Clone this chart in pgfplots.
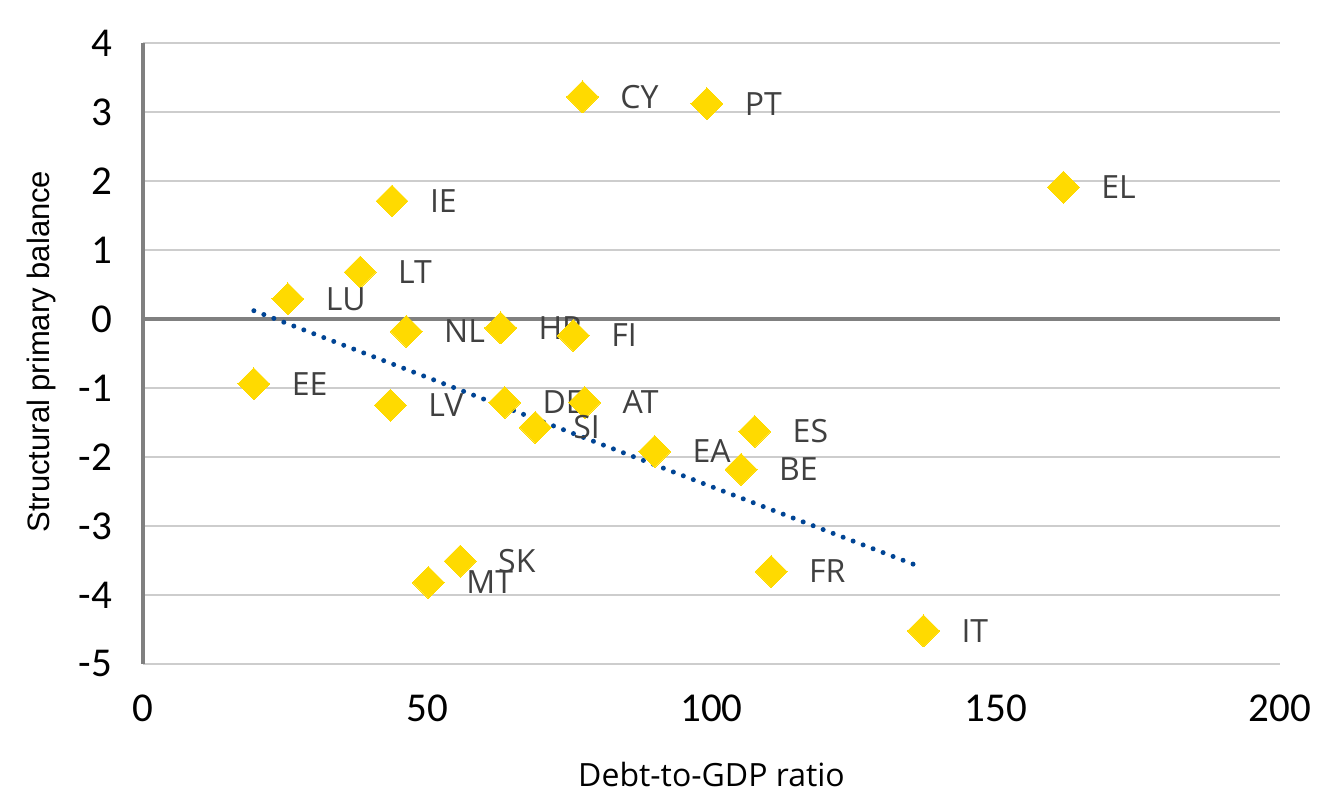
\documentclass[border=0pt]{standalone}
\usepackage{fontspec}
\setmainfont{Open Sans}
\newfontfamily\tickfont{Carlito}
\newfontfamily\ytitlefont{Liberation Sans}
\usepackage{pgfplots}
\usepackage{pgfplotstable}
\pgfplotsset{compat=1.18}
\usetikzlibrary{calc}
\definecolor{markgold}{RGB}{255,218,0}
\definecolor{trendblue}{RGB}{0,68,148}
\definecolor{labelgray}{RGB}{64,64,64}
\definecolor{gridgray}{RGB}{205,205,205}
\definecolor{axisgray}{RGB}{128,128,128}

\pgfplotstableread{
x y label
77.3 3.22 CY
99.2 3.12 PT
161.9 1.91 EL
43.8 1.71 IE
38.2 0.68 LT
25.5 0.29 LU
46.3 -0.18 NL
62.9 -0.13 HR
75.7 -0.24 FI
19.5 -0.94 EE
43.5 -1.25 LV
63.6 -1.21 DE
77.7 -1.21 AT
69.0 -1.57 SI
90.0 -1.92 EA
107.6 -1.63 ES
105.2 -2.18 BE
55.8 -3.51 SK
50.2 -3.82 MT
110.5 -3.66 FR
137.3 -4.52 IT
}\datatable

\begin{document}
\begin{tikzpicture}
\begin{axis}[
  scale only axis,
  width=568.5pt, height=310.5pt,
  xmin=0, xmax=200, ymin=-5, ymax=4,
  xtick={0,50,100,150,200},
  ytick={-5,-4,-3,-2,-1,0,1,2,3,4},
  axis line style={draw=none},
  major tick length=0pt,
  ymajorgrids,
  grid style={gridgray, line width=0.7pt},
  /pgf/number format/assume math mode=true,
  tick label style={font=\tickfont\fontsize{20.5}{24}\selectfont, text=black},
  xticklabel style={yshift=-12pt},
  yticklabel style={xshift=-12pt},
  xlabel={Debt-to-GDP ratio},
  ylabel={\ytitlefont Structural primary balance},
  every axis x label/.style={at={(axis description cs:0.5,-0.1787)}, anchor=center, font=\fontsize{16}{19}\selectfont, text=black},
  every axis y label/.style={at={(axis description cs:-0.0895,0.503)}, anchor=center, rotate=90, font=\fontsize{15.5}{18}\selectfont, text=black},
  clip=false,
]
\draw[axisgray, line width=1.75pt] (axis cs:0,-5) -- (axis cs:0,4);
\draw[axisgray, line width=1.75pt] (axis cs:0,0) -- (axis cs:200,0);

\addplot[markgold, only marks, mark=square*, mark size=5.65pt,
  mark options={rotate=45, fill=markgold, draw=markgold, line width=0pt},
  point meta=explicit symbolic,
  nodes near coords={\pgfplotspointmeta},
  every node near coord/.style={anchor=west, inner sep=0pt, xshift=19pt, font=\fontsize{16}{19}\selectfont, text=labelgray},
] table[x=x, y=y, meta=label] {\datatable};

\addplot[trendblue, line width=2.5pt, dash pattern=on 0pt off 5.35pt, line cap=round]
  coordinates {(19.5,0.12) (136.0,-3.57)};
\end{axis}
\pgfresetboundingbox
\path[use as bounding box] ($(current axis.south west)+(-71.5pt,-71.5pt)$) rectangle ($(current axis.north east)+(25.5pt,21.5pt)$);
\end{tikzpicture}
\end{document}
